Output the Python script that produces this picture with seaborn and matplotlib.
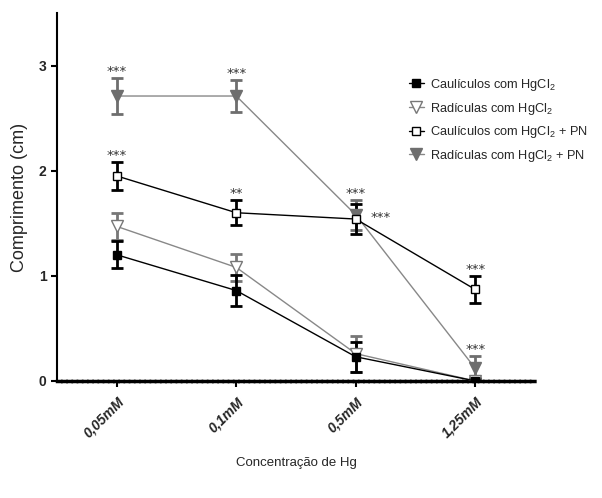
import matplotlib
matplotlib.use("Agg")
import matplotlib.pyplot as plt
import seaborn as sns
import pandas as pd
import numpy as np
from matplotlib import font_manager

sns.set_style("white")
fams = [f.name for f in font_manager.fontManager.ttflist]
narrow = "Liberation Sans Narrow" if "Liberation Sans Narrow" in fams else "Liberation Sans"
plt.rcParams['font.family'] = [narrow, 'DejaVu Sans']
plt.rcParams['mathtext.fontset'] = 'custom'
plt.rcParams['mathtext.rm'] = narrow

categories = ["0,05mM", "0,1mM", "0,5mM", "1,25mM"]
series_names = ["Caulículos com HgCl$_2$", "Radículas com HgCl$_2$",
                "Caulículos com HgCl$_2$ + PN", "Radículas com HgCl$_2$ + PN"]
caul = [1.20, 0.86, 0.23, 0.00]
caul_err = [0.13, 0.15, 0.14, 0.03]
rad = [1.47, 1.08, 0.26, 0.00]
rad_err = [0.13, 0.13, 0.17, 0.02]
caul_pn = [1.95, 1.60, 1.54, 0.87]
caul_pn_err = [0.13, 0.12, 0.14, 0.13]
rad_pn = [2.71, 2.71, 1.58, 0.12]
rad_pn_err = [0.17, 0.15, 0.14, 0.12]
# significance annotations: (category index, value, text)
annots = [(0, 2.88, "***"), (1, 2.86, "***"), (0, 2.08, "***"), (1, 1.72, "**"),
          (2, 1.72, "***"), (3, 1.0, "***"), (3, 0.24, "***")]
side_annot = (2, 1.55, "***")

vals = [caul, rad, caul_pn, rad_pn]
errs = [caul_err, rad_err, caul_pn_err, rad_pn_err]
colors = ["black", "#777777", "black", "#6e6e6e"]
linecolors = ["black", "#888888", "black", "#888888"]
markers = ["s", "v", "s", "v"]
mfaces = ["black", "white", "white", "#6e6e6e"]
msizes = [6, 8, 6, 9]

rows = []
for name, v in zip(series_names, vals):
    for i, c in enumerate(categories):
        rows.append({"serie": name, "x": i, "y": v[i]})
df = pd.DataFrame(rows)

fig = plt.figure(figsize=(6.02, 4.98), dpi=100)
ax = fig.add_axes([0.0947, 0.235, 0.794, 0.739])

order = [3, 2, 1, 0]
for k in order:
    name = series_names[k]
    sub = df[df.serie == name]
    ax.errorbar(sub.x, sub.y, yerr=errs[k], fmt="none", ecolor=colors[k],
                elinewidth=2, capsize=4, capthick=2, zorder=2)
for k in order:
    name = series_names[k]
    sub = df[df.serie == name]
    sns.lineplot(data=sub, x="x", y="y", ax=ax, color=linecolors[k], lw=1.0,
                 marker=markers[k], markersize=msizes[k], markerfacecolor=mfaces[k],
                 markeredgecolor=colors[k], markeredgewidth=1.0, label=name, zorder=3)

for i, yv, t in annots:
    ax.text(i, yv, t, ha="center", va="bottom", fontsize=9.5, color="#333333",
            family="DejaVu Sans")
ax.text(side_annot[0] + 0.12, side_annot[1], side_annot[2], ha="left", va="center",
        fontsize=9.5, color="#333333", family="DejaVu Sans")

ax.set_xlim(-0.5, 3.5)
ax.set_ylim(0, 3.5)
ax.set_xticks(range(len(categories)))
ax.set_xticklabels(categories, rotation=45, ha="right", rotation_mode="anchor",
                   fontweight="bold", fontstyle="italic", fontsize=10)
ax.set_yticks([0, 1, 2, 3])
ax.set_yticklabels(["0", "1", "2", "3"], fontweight="bold", fontsize=10)
ax.tick_params(axis="both", direction="out", length=4, width=1.5, color="black",
               bottom=True, left=True)
ax.tick_params(axis="x", pad=6)
for s in ["top", "right"]:
    ax.spines[s].set_visible(False)
ax.spines["left"].set_linewidth(1.5)
ax.spines["bottom"].set_linewidth(2.5)
ax.spines["bottom"].set_linestyle((0, (1, 0.5)))
ax.spines["left"].set_color("black")
ax.spines["bottom"].set_color("black")

ax.set_ylabel("Comprimento (cm)", fontsize=13, labelpad=8)
ax.set_xlabel("Concentração de Hg", fontsize=9.5, labelpad=12)

handles, labels = ax.get_legend_handles_labels()
hmap = dict(zip(labels, handles))
ax.legend([hmap[n] for n in series_names], series_names, loc="upper left",
          bbox_to_anchor=(0.725, 0.84), frameon=False, fontsize=9.2,
          handlelength=1.2, handletextpad=0.5, labelspacing=0.6, borderaxespad=0)

fig.savefig("out.png", dpi=100)
